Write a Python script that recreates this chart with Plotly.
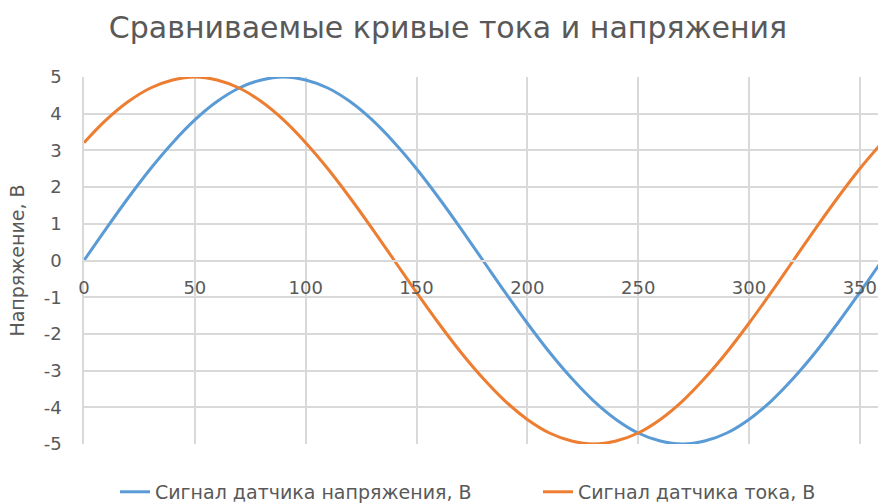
import plotly.graph_objects as go

# Angle, degrees
angle = [0, 10, 20, 30, 40, 50, 60, 70, 80, 90, 100, 110, 120, 130, 140, 150, 160, 170, 180,
         190, 200, 210, 220, 230, 240, 250, 260, 270, 280, 290, 300, 310, 320, 330, 340, 350, 360]

# Voltage sensor signal, V
voltage = [0.00, 0.87, 1.71, 2.50, 3.21, 3.83, 4.33, 4.70, 4.92, 5.00, 4.92, 4.70, 4.33, 3.83,
           3.21, 2.50, 1.71, 0.87, 0.00, -0.87, -1.71, -2.50, -3.21, -3.83, -4.33, -4.70, -4.92,
           -5.00, -4.92, -4.70, -4.33, -3.83, -3.21, -2.50, -1.71, -0.87, 0.00]

# Current sensor signal, V
current = [3.21, 3.83, 4.33, 4.70, 4.92, 5.00, 4.92, 4.70, 4.33, 3.83, 3.21, 2.50, 1.71, 0.87,
           0.00, -0.87, -1.71, -2.50, -3.21, -3.83, -4.33, -4.70, -4.92, -5.00, -4.92, -4.70,
           -4.33, -3.83, -3.21, -2.50, -1.71, -0.87, 0.00, 0.87, 1.71, 2.50, 3.21]

x_ticks = [0, 50, 100, 150, 200, 250, 300, 350]
y_ticks = [-5, -4, -3, -2, -1, 0, 1, 2, 3, 4, 5]
y_tick_text = ["-5", "-4", "-3", "-2", "-1", "0", "1", "2", "3", "4", "5"]

title_text = "Сравниваемые кривые тока и напряжения"
y_title = "Напряжение, В"
name_voltage = "Сигнал датчика напряжения, В"
name_current = "Сигнал датчика тока, В"

FONT = "DejaVu Sans"
TEXT = "#595959"
GRID = "#d9d9d9"

fig = go.Figure()
fig.add_trace(go.Scatter(x=angle, y=voltage, mode="lines", name=name_voltage, legend="legend",
                         line=dict(color="#5B9BD5", width=3, shape="spline")))
fig.add_trace(go.Scatter(x=angle, y=current, mode="lines", name=name_current, legend="legend2",
                         line=dict(color="#ED7D31", width=3, shape="spline")))

legend_common = dict(orientation="h", xref="container", yref="container", xanchor="left",
                     yanchor="middle", y=0.022, font=dict(size=19, color=TEXT, family=FONT),
                     bgcolor="rgba(0,0,0,0)", borderwidth=0)

fig.update_layout(
    width=878, height=503,
    margin=dict(l=84, r=0, t=77, b=59, autoexpand=False),
    paper_bgcolor="white", plot_bgcolor="white",
    font=dict(family=FONT, color=TEXT, size=18),
    title=dict(text=title_text, x=448 / 878, xref="container", xanchor="center",
               y=1 - 27 / 503, yref="container", yanchor="middle",
               font=dict(size=30, color=TEXT, family=FONT)),
    showlegend=True,
    legend=dict(legend_common, x=115 / 878),
    legend2=dict(legend_common, x=538 / 878),
    xaxis=dict(range=[0, 358.2], tickvals=x_ticks, showgrid=True, gridcolor=GRID, gridwidth=1.5,
               zeroline=False, showline=True, linecolor=GRID, linewidth=1.5,
               anchor="free", position=0.5, ticks="", ticklabelstandoff=11,
               tickfont=dict(size=18, color=TEXT, family=FONT)),
    yaxis=dict(range=[-5, 5], tickvals=y_ticks, ticktext=y_tick_text, showgrid=True,
               gridcolor=GRID, gridwidth=1.5,
               zeroline=False, showline=True, linecolor=GRID, linewidth=1.5,
               ticks="", ticklabelstandoff=17,
               tickfont=dict(size=18, color=TEXT, family=FONT),
               title=dict(text=y_title, font=dict(size=19, color=TEXT, family=FONT), standoff=14)),
)

fig.write_html("out.html")
